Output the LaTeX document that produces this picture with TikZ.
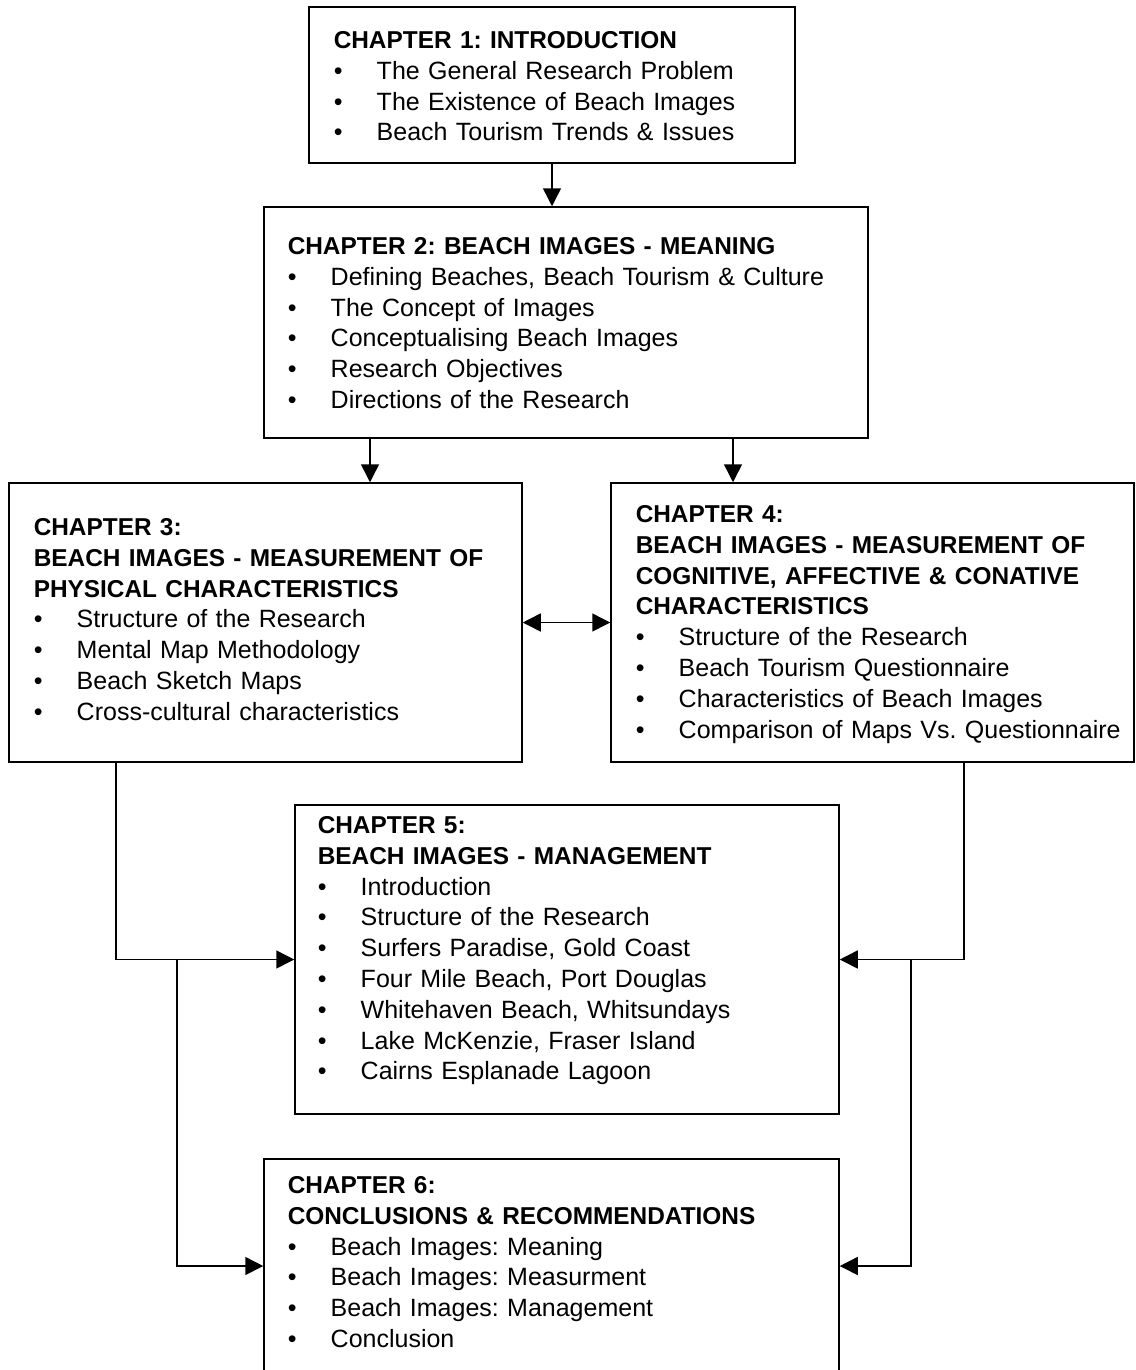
\documentclass[tikz,border=0pt]{standalone}
\usepackage{fontspec}
\setmainfont{Liberation Sans}
\usepackage{tikz}
\usetikzlibrary{arrows.meta}

\frenchspacing
\newcommand{\bul}{\makebox[21.5pt][l]{\textbullet}}
\newcommand{\hd}[1]{{\fontsize{12.2}{15.4}\selectfont\bfseries #1}}

\begin{document}
\begin{tikzpicture}[
  x = 0.5pt,
  y = -0.5pt,
  line width = 0.75pt,
  chapter/.style = {draw, inner sep = 0pt},
  outline/.style = {anchor = base west, inner sep = 0pt, align = left,
    text width = 270pt, font = \fontsize{12.5}{15.4}\selectfont},
  conn/.style = {-{Triangle[length = 9pt, width = 9pt]}},
  ]

  \useasboundingbox (0, 0) rectangle (1135, 1370);

  \node at (552, 85)
  [chapter, name = Intro, minimum width = 243pt, minimum height = 78pt] {};

  \node at (333, 48.5)
  [outline, name = IntroText]
  {\hd{CHAPTER 1: INTRODUCTION}\\
   \bul The General Research Problem\\
   \bul The Existence of Beach Images\\
   \bul Beach Tourism Trends \& Issues};

  \node at (566, 322.5)
  [chapter, name = Meaning, minimum width = 302pt, minimum height = 115.5pt] {};

  \node at (287, 254.5)
  [outline, name = MeaningText]
  {\hd{CHAPTER 2: BEACH IMAGES - MEANING}\\
   \bul Defining Beaches, Beach Tourism \& Culture\\
   \bul The Concept of Images\\
   \bul Conceptualising Beach Images\\
   \bul Research Objectives\\
   \bul Directions of the Research};

  \node at (265.5, 622.5)
  [chapter, name = Physical, minimum width = 256.5pt, minimum height = 139.5pt] {};

  \node at (33, 535.5)
  [outline, name = PhysicalText]
  {\hd{CHAPTER 3:}\\
   \hd{BEACH IMAGES - MEASUREMENT OF}\\
   \hd{PHYSICAL CHARACTERISTICS}\\
   \bul Structure of the Research\\
   \bul Mental Map Methodology\\
   \bul Beach Sketch Maps\\
   \bul Cross-cultural characteristics};

  \node at (872.5, 622.5)
  [chapter, name = Cognitive, minimum width = 261.5pt, minimum height = 139.5pt] {};

  \node at (635, 522.5)
  [outline, name = CognitiveText]
  {\hd{CHAPTER 4:}\\
   \hd{BEACH IMAGES - MEASUREMENT OF}\\
   \hd{COGNITIVE, AFFECTIVE \& CONATIVE}\\
   \hd{CHARACTERISTICS}\\
   \bul Structure of the Research\\
   \bul Beach Tourism Questionnaire\\
   \bul Characteristics of Beach Images\\
   \bul Comparison of Maps Vs. Questionnaire};

  \node at (567, 959.5)
  [chapter, name = Management, minimum width = 272pt, minimum height = 154.5pt] {};

  \node at (317, 833.5)
  [outline, name = ManagementText]
  {\hd{CHAPTER 5:}\\
   \hd{BEACH IMAGES - MANAGEMENT}\\
   \bul Introduction\\
   \bul Structure of the Research\\
   \bul Surfers Paradise, Gold Coast\\
   \bul Four Mile Beach, Port Douglas\\
   \bul Whitehaven Beach, Whitsundays\\
   \bul Lake McKenzie, Fraser Island\\
   \bul Cairns Esplanade Lagoon};

  \node at (551.5, 1266)
  [chapter, name = Conclusions, minimum width = 287.5pt, minimum height = 107pt] {};

  \node at (287, 1193.5)
  [outline, name = ConclusionsText]
  {\hd{CHAPTER 6:}\\
   \hd{CONCLUSIONS \& RECOMMENDATIONS}\\
   \bul Beach Images: Meaning\\
   \bul Beach Images: Measurment\\
   \bul Beach Images: Management\\
   \bul Conclusion};

  \coordinate (LeftJoin) at (177, 959);

  \coordinate (RightJoin) at (911, 959);

  \draw [conn] (Intro.south) to (Intro.south |- Meaning.north);

  \draw [conn] ([xshift = -98pt] Meaning.south) to ([xshift = 52.25pt] Physical.north);

  \draw [conn] ([xshift = 83.5pt] Meaning.south) to ([xshift = -69.75pt] Cognitive.north);

  \draw [{Triangle[length = 9pt, width = 9pt]}-{Triangle[length = 9pt, width = 9pt]}]
  (Physical.east) to (Cognitive.west);

  \draw [conn] ([xshift = -74.75pt] Physical.south) |- (Management.west);

  \draw [conn] (LeftJoin) |- (Conclusions.west);

  \draw [conn] ([xshift = 45.75pt] Cognitive.south) |- (Management.east);

  \draw [conn] (RightJoin) |- (Conclusions.east);

\end{tikzpicture}
\end{document}
